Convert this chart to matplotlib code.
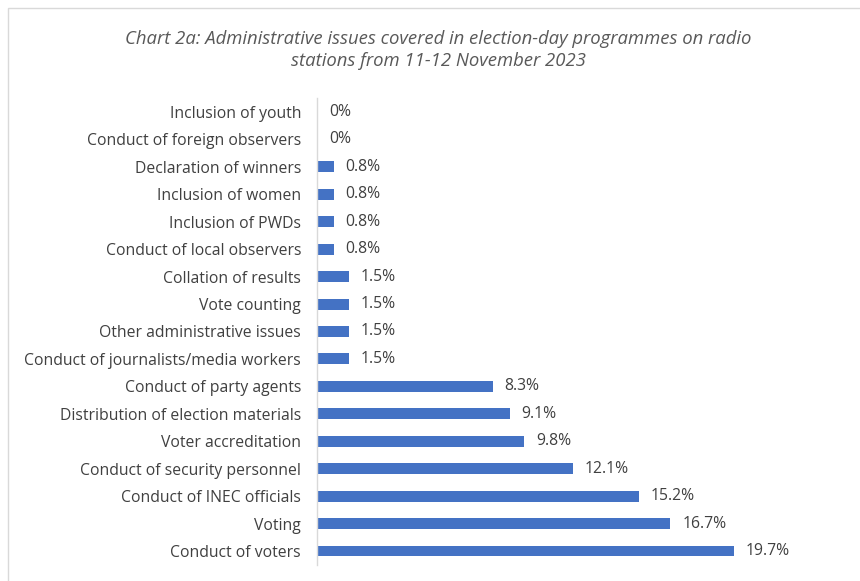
import matplotlib
matplotlib.use("Agg")
import matplotlib.pyplot as plt
from matplotlib.patches import Rectangle

plt.rcParams["font.family"] = ["Open Sans", "DejaVu Sans"]

issues = [
    "Inclusion of youth",
    "Conduct of foreign observers",
    "Declaration of winners",
    "Inclusion of women",
    "Inclusion of PWDs",
    "Conduct of local observers",
    "Collation of results",
    "Vote counting",
    "Other administrative issues",
    "Conduct of journalists/media workers",
    "Conduct of party agents",
    "Distribution of election materials",
    "Voter accreditation",
    "Conduct of security personnel",
    "Conduct of INEC officials",
    "Voting",
    "Conduct of voters",
]
shares = [0, 0, 0.8, 0.8, 0.8, 0.8, 1.5, 1.5, 1.5, 1.5, 8.3, 9.1, 9.8, 12.1, 15.2, 16.7, 19.7]

bar_color = "#4472C4"
text_color = "#404040"

fig = plt.figure(figsize=(8.6, 5.81), dpi=100)
ax = fig.add_axes([317 / 860, 0.028, (846 - 317) / 860, 0.803])

ypos = list(range(len(issues)))
ax.barh(ypos, shares, height=0.4, color=bar_color)

for y, v in zip(ypos, shares):
    label = "0%" if v == 0 else f"{v:.1f}%"
    ax.annotate(label, (v, y), xytext=(8.5, 0), textcoords="offset points",
                ha="left", va="center", fontsize=11.3, color=text_color)

ax.set_yticks(ypos)
ax.set_yticklabels(issues, fontsize=11.3, color=text_color)
ax.set_ylim(len(issues) - 0.5, -0.5)
ax.set_xlim(0, 25)
ax.set_xticks([])
ax.tick_params(axis="y", length=0, pad=11.5)
for side in ["top", "right", "bottom"]:
    ax.spines[side].set_visible(False)
ax.spines["left"].set_color("#d9d9d9")
ax.spines["left"].set_linewidth(1.0)

fig.text(0.51, 1 - 39 / 581,
         "Chart 2a: Administrative issues covered in election-day programmes on radio",
         ha="center", va="center", fontsize=13.3, style="italic", color="#595959")
fig.text(0.51, 1 - 61 / 581, "stations from 11-12 November 2023",
         ha="center", va="center", fontsize=13.3, style="italic", color="#595959")

# thin frame around the chart area
fig.add_artist(Rectangle((8 / 860, -0.1), 1.2, 1 - 8 / 581 + 0.1,
                         transform=fig.transFigure, fill=False,
                         edgecolor="#d9d9d9", linewidth=1.0))

fig.savefig("out.png", dpi=100)
